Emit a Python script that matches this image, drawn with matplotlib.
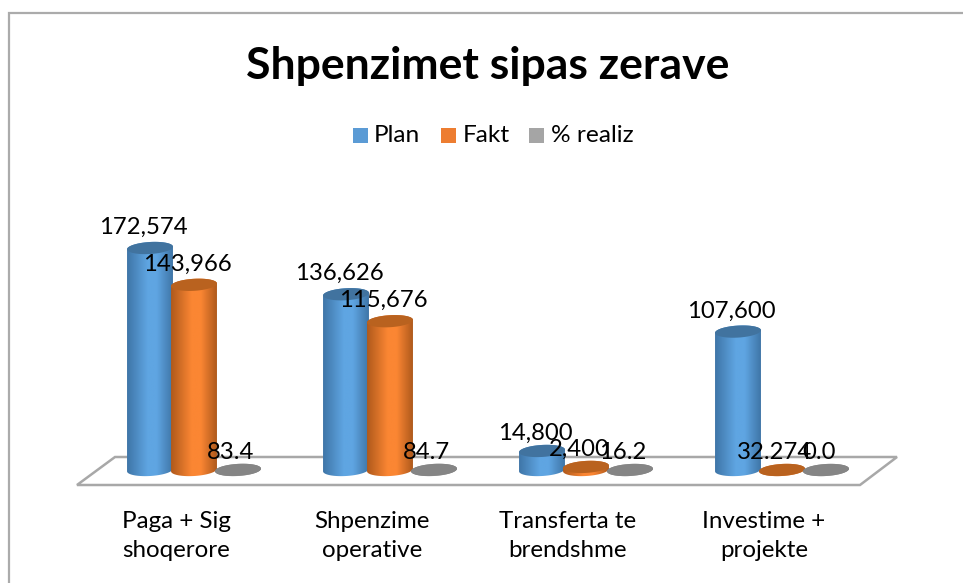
# plot.py
# Shpenzimet sipas zerave - 3D style cylinder chart drawn on a flat axes

import numpy as np
import matplotlib
matplotlib.use("Agg")
import matplotlib.pyplot as plt
from matplotlib.patches import Polygon, Rectangle
from matplotlib.colors import LinearSegmentedColormap

# ============ DATA ============

categories = ["Paga + Sig\nshoqerore", "Shpenzime\noperative", "Transferta te\nbrendshme", "Investime +\nprojekte"]
series_names = ["Plan", "Fakt", "% realiz"]
plan = [172574, 136626, 14800, 107600]
fakt = [143966, 115676, 2400, 32.274]
realiz = [83.4, 84.7, 16.2, 0.0]
labels_plan = ["172,574", "136,626", "14,800", "107,600"]
labels_fakt = ["143,966", "115,676", "2,400", "32.274"]
labels_realiz = ["83.4", "84.7", "16.2", "0.0"]

# ============ LAYOUT (pixels of the 963x583 picture) ============

W, H = 963, 583
BASE_Y = 470            # pixel row of value 0
GROUP_X0 = 194          # centre of first group
GROUP_DX = 196
BAR_DX = 44
PX_PER_UNIT = 222 / 172574
RX, RY = 23, 6
TILT = np.radians(3.5)

COLORS = {
    "Plan": ("#3f76a8", "#5fa5e2", "#41739f"),
    "Fakt": ("#b05a1c", "#fb8633", "#b9621f"),
    "% realiz": ("#6e6e6e", "#a5a5a5", "#858585"),
}
LEGEND_COLORS = ["#5b9bd5", "#ed7d31", "#a5a5a5"]
FONT = "Lato"

plt.rcParams["font.family"] = [FONT, "DejaVu Sans"]

fig = plt.figure(figsize=(W / 100, H / 100), dpi=100)
ax = fig.add_axes([0, 0, 1, 1])
ax.set_xlim((0 - GROUP_X0) / GROUP_DX, (W - GROUP_X0) / GROUP_DX)
ax.set_ylim((BASE_Y - H) / PX_PER_UNIT, BASE_Y / PX_PER_UNIT)
ax.axis("off")


def from_px(px, py):
    """Picture pixels to data coordinates."""
    return (np.asarray(px) - GROUP_X0) / GROUP_DX, (BASE_Y - np.asarray(py)) / PX_PER_UNIT


def ellipse_pts(x, value, t):
    """Points on a tilted ellipse centred on category position x and the given value."""
    ex = RX * np.cos(t) * np.cos(TILT) - RY * np.sin(t) * np.sin(TILT)
    ey = RX * np.cos(t) * np.sin(TILT) + RY * np.sin(t) * np.cos(TILT)
    return x + ex / GROUP_DX, value + ey / PX_PER_UNIT


def cylinder(x, value, name):
    edge, mid, top = COLORS[name]
    low = np.linspace(np.pi, 2 * np.pi, 40)
    high = np.linspace(0, np.pi, 40)
    bx, by = ellipse_pts(x, 0, low)
    tx, ty = ellipse_pts(x, value, high)
    body = Polygon(np.column_stack([np.r_[bx, tx], np.r_[by, ty]]), closed=True,
                   facecolor="none", edgecolor="none", zorder=3 + x)
    ax.add_patch(body)
    cmap = LinearSegmentedColormap.from_list("c", [(0, edge), (0.45, mid), (0.65, mid), (1, edge)])
    grad = np.linspace(0, 1, 64).reshape(1, -1)
    x0, x1 = x - RX / GROUP_DX, x + RX / GROUP_DX
    y0, y1 = -2 * RY / PX_PER_UNIT, value + 2 * RY / PX_PER_UNIT
    im = ax.imshow(grad, cmap=cmap, extent=[x0, x1, y0, y1], aspect="auto",
                   interpolation="bilinear", zorder=3 + x)
    im.set_clip_path(body)
    t = np.linspace(0, 2 * np.pi, 80)
    ex, ey = ellipse_pts(x, value, t)
    ax.add_patch(Polygon(np.column_stack([ex, ey]), closed=True, facecolor=top,
                         edgecolor="none", zorder=3 + x))


# chart frame, only the left and top sides are inside the picture
bx, by = from_px([9, 9, W], [H, 13, 13])
ax.plot(bx, by, color="#ababab", linewidth=1.6, zorder=0, solid_joinstyle="miter")

# floor of the 3D plot
fx, fy = from_px([77, 860, 897, 115], [485, 485, 457, 457])
ax.add_patch(Polygon(np.column_stack([fx, fy]), closed=True, facecolor="white",
                     edgecolor="#a8a8a8", linewidth=1.8, zorder=1))

# cylinders and value labels
series = [plan, fakt, realiz]
value_labels = [labels_plan, labels_fakt, labels_realiz]
for i in range(len(categories)):
    for j, name in enumerate(series_names):
        pos = i + (j - 1) * BAR_DX / GROUP_DX
        cylinder(pos, series[j][i], name)
for i in range(len(categories)):
    for j, name in enumerate(series_names):
        pos = i + (j - 1) * BAR_DX / GROUP_DX
        val = series[j][i]
        gap = 7 if val < 20000 else 10
        ax.text(pos - 7 / GROUP_DX, val + gap / PX_PER_UNIT, value_labels[j][i],
                ha="center", va="bottom", fontsize=17.2, color="black", zorder=20)

# category labels
for i, cat in enumerate(categories):
    lx, ly = from_px(GROUP_X0 - 18, 536)
    ax.text(lx + i, ly, cat, ha="center", va="center", fontsize=17.4, color="black", linespacing=1.45)

# title
tx, ty = from_px(488, 66)
ax.text(tx, ty, "Shpenzimet sipas zerave", ha="center", va="center", fontsize=32,
        fontweight="bold", color="black")

# legend
for name, col, sx, lx in zip(series_names, LEGEND_COLORS, [353, 441, 529], [374, 463, 551]):
    kx, ky = from_px(sx, 143)
    ax.add_patch(Rectangle((kx, ky), 15 / GROUP_DX, 15 / PX_PER_UNIT, facecolor=col, edgecolor="none"))
    nx, ny = from_px(lx, 135)
    ax.text(nx, ny, name, ha="left", va="center", fontsize=17.6, color="black")

fig.savefig("out.png", dpi=100)
plt.close(fig)
